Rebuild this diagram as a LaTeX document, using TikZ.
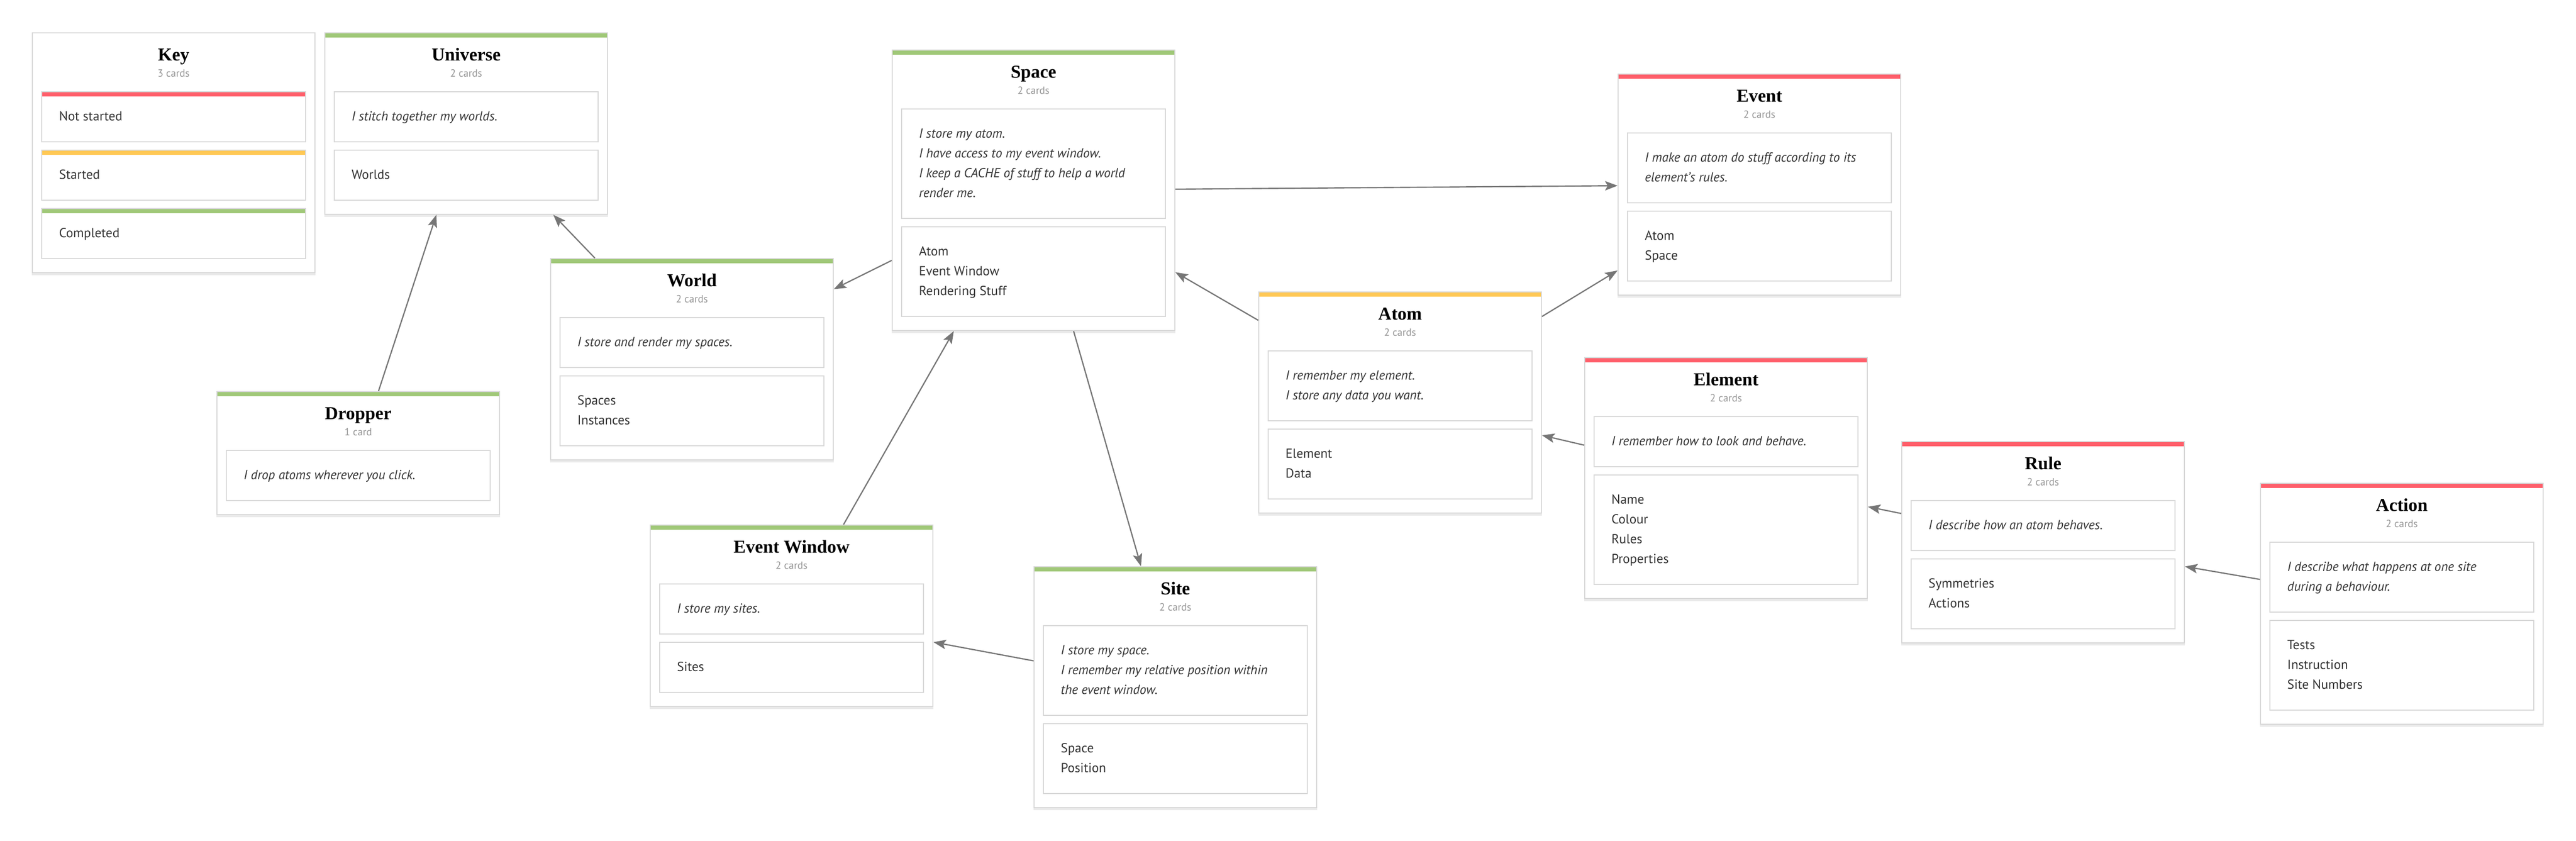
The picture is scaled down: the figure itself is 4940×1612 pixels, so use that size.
\documentclass[tikz,border=0pt]{standalone}
\usepackage{fontspec}
\setmainfont{PT Sans}
\newfontfamily\ttlfont{Liberation Serif}
\usetikzlibrary{arrows.meta}
\definecolor{cgreen}{RGB}{160,200,120}
\definecolor{cred}{RGB}{255,94,106}
\definecolor{cyellow}{RGB}{255,200,85}
\definecolor{cborder}{RGB}{216,216,216}
\definecolor{cshadow}{RGB}{234,234,234}
\definecolor{carrow}{RGB}{118,118,118}
\definecolor{ctext}{RGB}{51,51,51}
\definecolor{csub}{RGB}{150,150,150}
\tikzset{
  outerbox/.style={rectangle, draw=cborder, line width=1pt, fill=white, minimum width=271pt, inner sep=0pt},
  cardbox/.style={rectangle, draw=cborder, line width=1pt, fill=white, minimum width=253pt, inner sep=0pt},
  titletext/.style={font=\ttlfont\bfseries\fontsize{17.5}{20}\selectfont, text=black, inner sep=0pt, anchor=base},
  subtext/.style={font=\fontsize{10}{12}\selectfont, text=csub, inner sep=0pt, anchor=base},
  bodytext/.style={font=\fontsize{12.6}{19}\selectfont, text=ctext, align=left, inner sep=0pt, anchor=base west},
  itext/.style={bodytext, font=\fontsize{12.6}{19}\selectfont\itshape},
  link/.style={draw=carrow, line width=1.2pt, -{Stealth[length=12pt,width=9pt,inset=2.5pt]}},
}
\newcommand{\mkbox}[7]{%
  \node[outerbox, minimum height=#4*0.5pt] (#1) at (#2+271,#3+#4/2) {};
  \fill[#5] ([xshift=1pt,yshift=-1pt]#1.north west) rectangle ([xshift=-1pt,yshift=-5pt]#1.north east);
  \fill[cshadow] ([yshift=-0.2pt]#1.south west) rectangle ([yshift=-2pt]#1.south east);
  \node[titletext] (#1-title) at ([yshift=-27pt]#1.north) {#6};
  \node[subtext] (#1-sub) at ([yshift=-42.5pt]#1.north) {#7};
}
% the base anchor of a multi-line node is the baseline of its last line
\newcommand{\mkcard}[5]{%
  \node[cardbox, minimum height=(58+38*#4)*0.5pt] (#1) at (#2+271,#3+29+19*#4) {};
  \node[bodytext] (#1-text) at (#2+51,#3+55+38*#4-38) {#5};
}
\newcommand{\mkicard}[5]{%
  \node[cardbox, minimum height=(58+38*#4)*0.5pt] (#1) at (#2+271,#3+29+19*#4) {};
  \node[itext] (#1-text) at (#2+51,#3+55+38*#4-38) {#5};
}
\newcommand{\mkbar}[2]{%
  \fill[#2] ([xshift=1pt,yshift=-1pt]#1.north west) rectangle ([xshift=-1pt,yshift=-5pt]#1.north east);
}
\newcommand{\twobox}[9]{%
  \pgfmathsetmacro\hA{58+38*#6}%
  \pgfmathsetmacro\hB{58+38*#8}%
  \pgfmathsetmacro\hT{113+\hA+16+\hB+27}%
  \mkbox{#1}{#2}{#3}{\hT}{#4}{#5}{2 cards}%
  \mkicard{#1-a}{#2}{#3+113}{#6}{#7}%
  \mkcard{#1-b}{#2}{#3+113+\hA+16}{#8}{#9}%
}
\begin{document}
\begin{tikzpicture}[x=0.5pt,y=-0.5pt]
\useasboundingbox (0,0) rectangle (4940,1612);
\fill[white] (0,0) rectangle (4940,1612);

% Key
\mkbox{key}{62}{63}{460}{white}{Key}{3 cards}
\mkcard{key-a}{62}{176}{1}{Not started}
\mkbar{key-a}{cred}
\mkcard{key-b}{62}{288}{1}{Started}
\mkbar{key-b}{cyellow}
\mkcard{key-c}{62}{400}{1}{Completed}
\mkbar{key-c}{cgreen}

% Dropper
\mkbox{dropper}{416}{751}{236}{cgreen}{Dropper}{1 card}
\mkicard{dropper-a}{416}{864}{1}{I drop atoms wherever you click.}

\twobox{universe}{623}{63}{cgreen}{Universe}{1}{I stitch together my worlds.}{1}{Worlds}
\twobox{world}{1056}{496}{cgreen}{World}{1}{I store and render my spaces.}{2}{Spaces\\Instances}
\twobox{space}{1711}{96}{cgreen}{Space}{4}{I store my atom.\\I have access to my event window.\\I keep a CACHE of stuff to help a world\\render me.}{3}{Atom\\Event Window\\Rendering Stuff}
\twobox{evwin}{1247}{1007}{cgreen}{Event Window}{1}{I store my sites.}{1}{Sites}
\twobox{site}{1983}{1087}{cgreen}{Site}{3}{I store my space.\\I remember my relative position within\\the event window.}{2}{Space\\Position}
\twobox{atom}{2414}{560}{cyellow}{Atom}{2}{I remember my element.\\I store any data you want.}{2}{Element\\Data}
\twobox{event}{3103}{142}{cred}{Event}{2}{I make an atom do stuff according to its\\element's rules.}{2}{Atom\\Space}
\twobox{element}{3039}{686}{cred}{Element}{1}{I remember how to look and behave.}{4}{Name\\Colour\\Rules\\Properties}
\twobox{rule}{3647}{847}{cred}{Rule}{1}{I describe how an atom behaves.}{2}{Symmetries\\Actions}
\twobox{action}{4335}{927}{cred}{Action}{2}{I describe what happens at one site\\during a behaviour.}{3}{Tests\\Instruction\\Site Numbers}

% connectors
\draw[link] (dropper) -- (universe);
\draw[link] (world) -- (universe);
\draw[link] (space) -- (world);
\draw[link] (evwin) -- (space);
\draw[link] (space) -- (site);
\draw[link] (site) -- (evwin);
\draw[link] (atom) -- (space);
\draw[link] (space) -- (event);
\draw[link] (atom) -- (event);
\draw[link] (element) -- (atom);
\draw[link] (rule) -- (element);
\draw[link] (action) -- (rule);
\end{tikzpicture}
\end{document}
